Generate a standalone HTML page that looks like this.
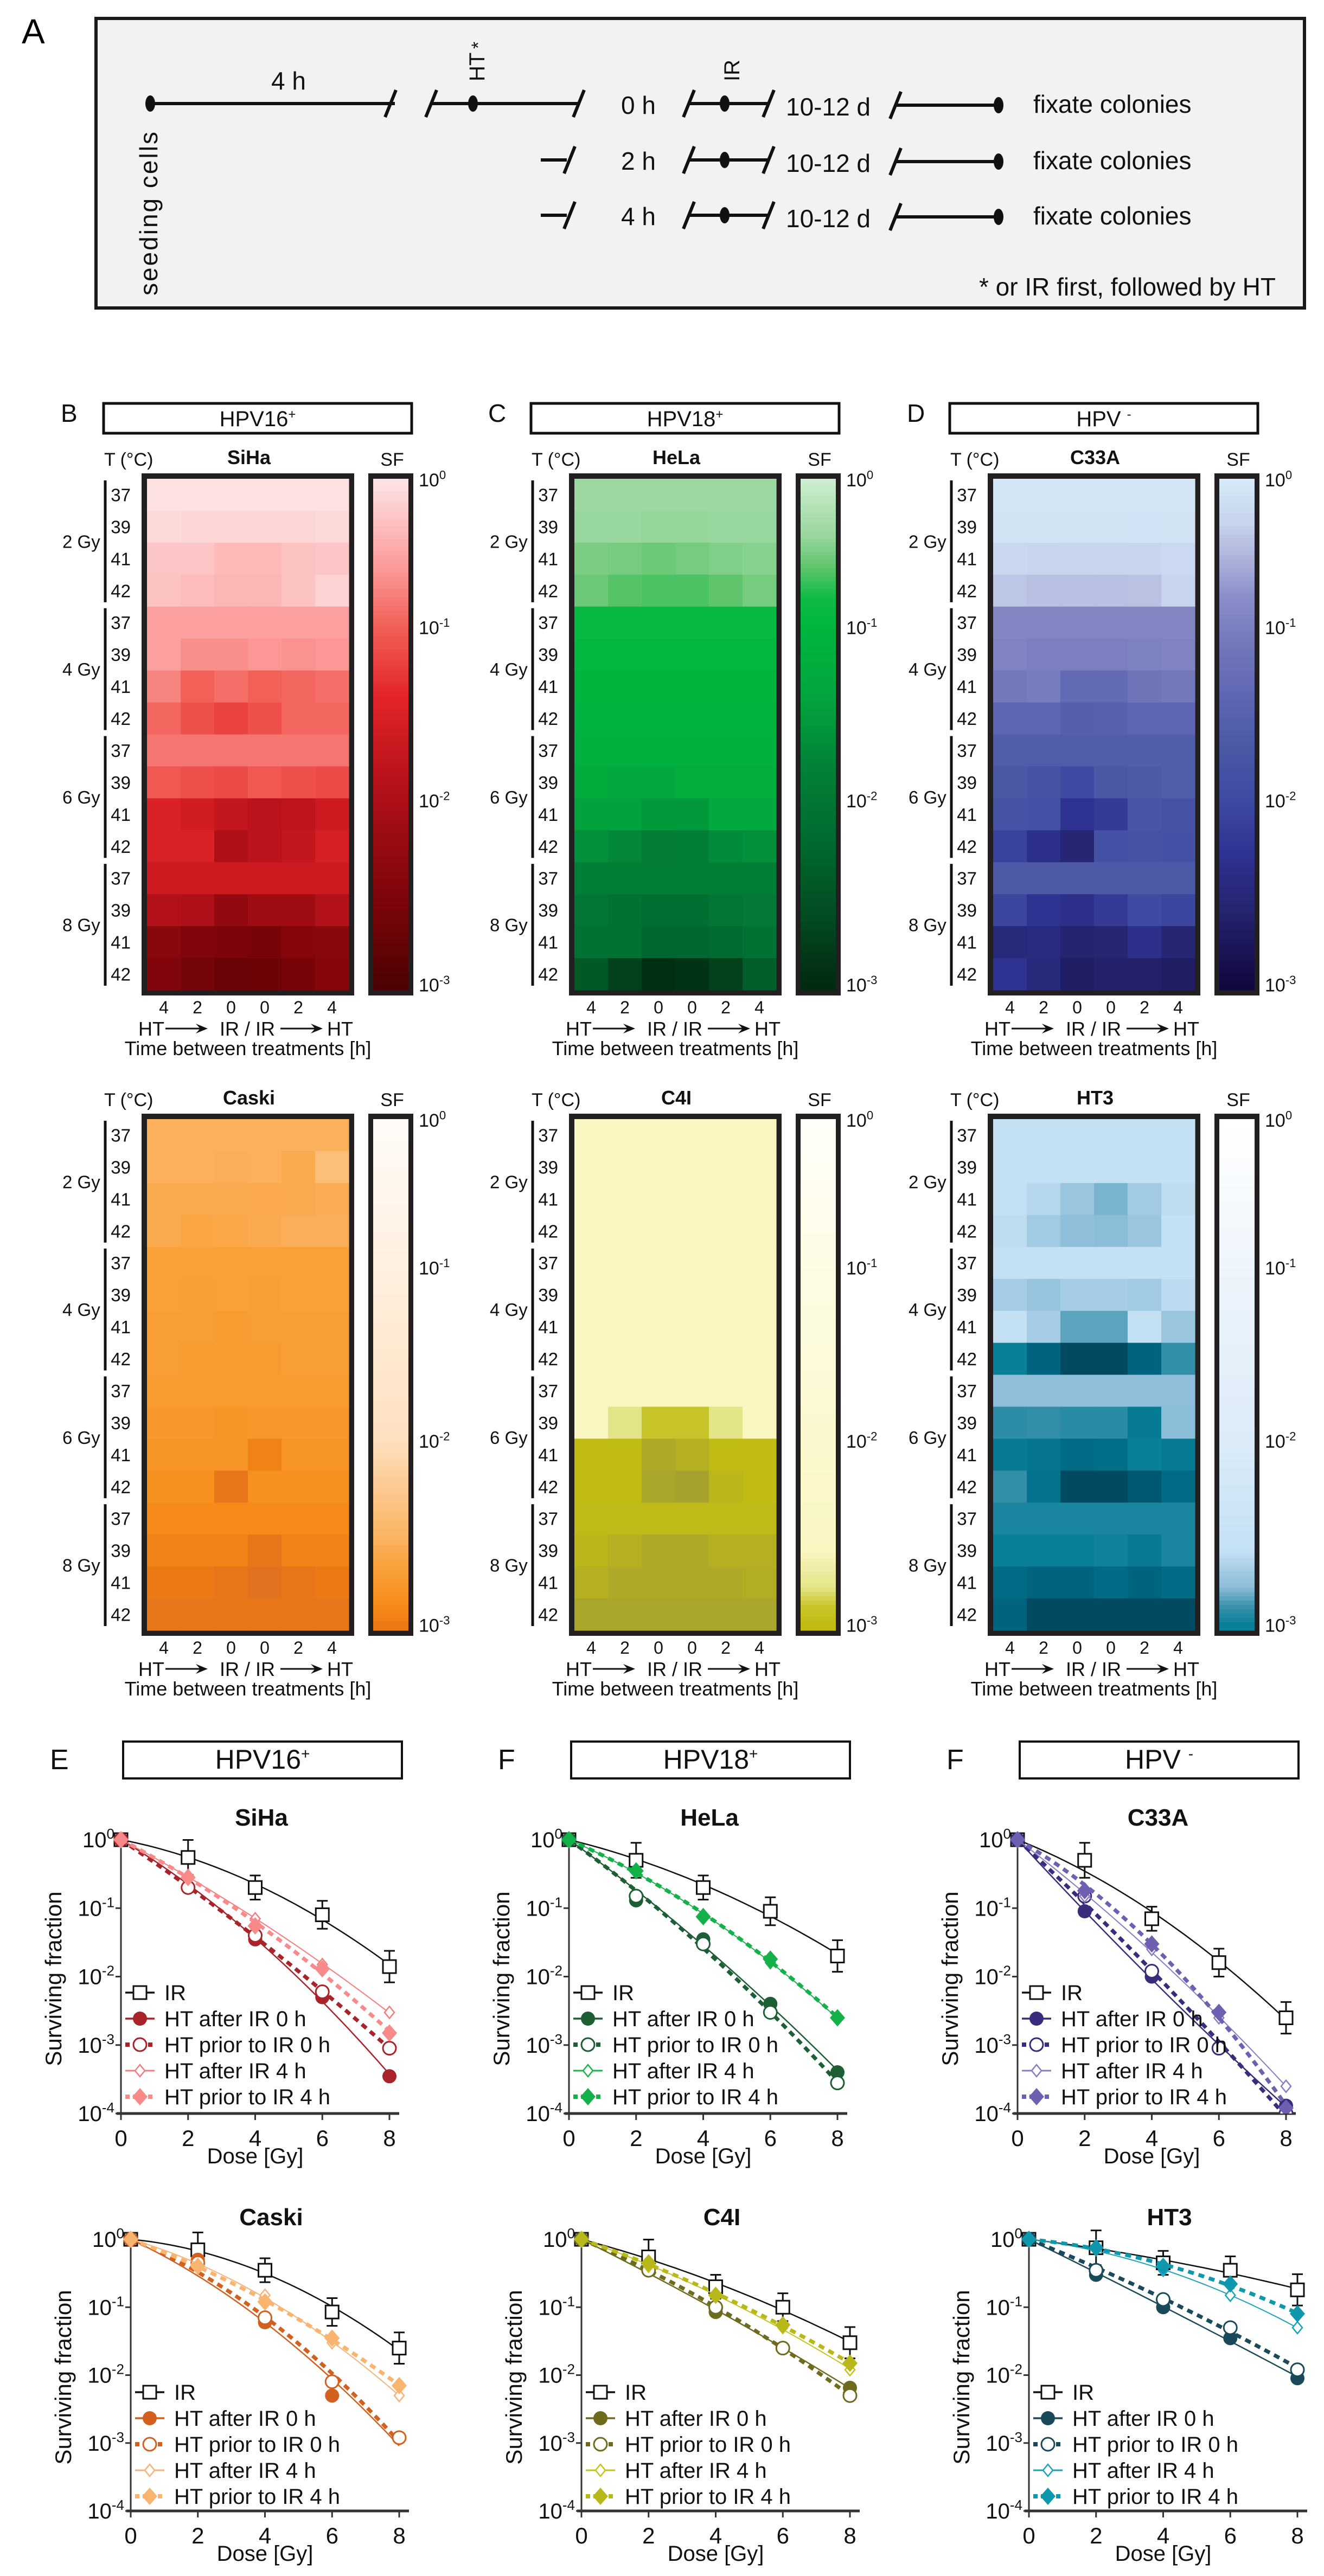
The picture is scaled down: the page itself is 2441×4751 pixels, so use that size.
<!DOCTYPE html>
<html><head><meta charset="utf-8">
<style>
html,body{margin:0;padding:0;background:#fff;}
svg{display:block;font-family:"Liberation Sans",Arial,sans-serif;}
.n{font-family:"Liberation Sans Narrow","Liberation Sans",sans-serif;}
</style></head>
<body>
<svg id="fig" width="2441" height="4751" viewBox="0 0 2441 4751" xmlns="http://www.w3.org/2000/svg">
<rect x="0" y="0" width="2441" height="4751" fill="#fff"/>
<!-- Panel A -->
<g>
<text x="40" y="80" font-size="64">A</text>
<rect x="177" y="34" width="2228" height="534" fill="#f3f2f2" stroke="#1a1a1a" stroke-width="6"/>
<g stroke="#111" stroke-width="6" fill="none">
<line x1="277" y1="191" x2="728" y2="191"/><line x1="795" y1="191" x2="1067" y2="191"/>
<line x1="710" y1="216" x2="730" y2="166"/><line x1="785" y1="216" x2="805" y2="166"/><line x1="1057" y1="216" x2="1077" y2="166"/>
<line x1="1270" y1="191" x2="1417" y2="191"/><line x1="1260" y1="216" x2="1280" y2="166"/><line x1="1407" y1="216" x2="1427" y2="166"/>
<line x1="1651" y1="194" x2="1841" y2="194"/><line x1="1641" y1="219" x2="1661" y2="169"/>
<line x1="997" y1="295" x2="1045" y2="295"/><line x1="1040" y1="320" x2="1060" y2="270"/>
<line x1="1270" y1="295" x2="1417" y2="295"/><line x1="1260" y1="320" x2="1280" y2="270"/><line x1="1407" y1="320" x2="1427" y2="270"/>
<line x1="1651" y1="298" x2="1841" y2="298"/><line x1="1641" y1="323" x2="1661" y2="273"/>
<line x1="997" y1="397" x2="1045" y2="397"/><line x1="1040" y1="422" x2="1060" y2="372"/>
<line x1="1270" y1="397" x2="1417" y2="397"/><line x1="1260" y1="422" x2="1280" y2="372"/><line x1="1407" y1="422" x2="1427" y2="372"/>
<line x1="1651" y1="400" x2="1841" y2="400"/><line x1="1641" y1="425" x2="1661" y2="375"/>
</g>
<g fill="#111">
<ellipse cx="277" cy="191" rx="9" ry="15"/><ellipse cx="872" cy="191" rx="9" ry="15"/><ellipse cx="1336" cy="191" rx="9" ry="15"/><ellipse cx="1841" cy="194" rx="9" ry="15"/>
<ellipse cx="1336" cy="295" rx="9" ry="15"/><ellipse cx="1841" cy="298" rx="9" ry="15"/>
<ellipse cx="1336" cy="397" rx="9" ry="15"/><ellipse cx="1841" cy="400" rx="9" ry="15"/>
</g>
<g class="n" font-size="46" fill="#111">
<text x="500" y="165">4 h</text>
<text x="1145" y="210">0 h</text><text x="1145" y="313">2 h</text><text x="1145" y="415">4 h</text>
<text x="1449" y="213">10-12 d</text><text x="1449" y="317">10-12 d</text><text x="1449" y="419">10-12 d</text>
<text x="1905" y="208">fixate colonies</text><text x="1905" y="312">fixate colonies</text><text x="1905" y="414">fixate colonies</text>
<text x="2352" y="545" text-anchor="end">* or IR first, followed by HT</text>
<text transform="translate(893,150) rotate(-90)" font-size="40">HT</text>
<text transform="translate(893,90) rotate(-90)" font-size="34">*</text>
<text transform="translate(1363,150) rotate(-90)" font-size="40">IR</text>
</g>
<text transform="translate(290,545) rotate(-90)" font-size="46" letter-spacing="3" fill="#111">seeding cells</text>
</g>
<g id="heatmaps"></g>
<g id="charts"></g>
</svg>
<script>
// ================= HEATMAP DATA (log10 SF) =================
const hmRowTemps = ["37","39","41","42"];
const hmDoses = ["2 Gy","4 Gy","6 Gy","8 Gy"];
const hmColLabels = ["4","2","0","0","2","4"];
const cbTickLabels = ["0","-1","-2","-3"];
const sihaLog = [
[-0.05,-0.05,-0.05,-0.05,-0.05,-0.05],[-0.1,-0.12,-0.13,-0.13,-0.12,-0.1],[-0.25,-0.25,-0.35,-0.35,-0.28,-0.25],[-0.28,-0.33,-0.38,-0.38,-0.28,-0.15],
[-0.55,-0.55,-0.55,-0.55,-0.55,-0.55],[-0.55,-0.68,-0.68,-0.62,-0.65,-0.62],[-0.75,-1.0,-0.9,-1.0,-0.95,-0.9],[-0.95,-1.1,-1.2,-1.1,-0.95,-0.95],
[-0.85,-0.85,-0.85,-0.85,-0.85,-0.85],[-1.05,-1.1,-1.15,-1.05,-1.1,-1.15],[-1.5,-1.6,-1.75,-1.85,-1.8,-1.65],[-1.5,-1.5,-2.0,-1.85,-1.75,-1.55],
[-1.65,-1.65,-1.65,-1.65,-1.65,-1.65],[-1.95,-2.0,-2.3,-2.15,-2.15,-1.95],[-2.4,-2.5,-2.55,-2.6,-2.45,-2.4],[-2.5,-2.65,-2.75,-2.7,-2.6,-2.45]];
const helaLog = [
[-0.35,-0.35,-0.35,-0.35,-0.35,-0.35],[-0.38,-0.38,-0.4,-0.4,-0.38,-0.38],[-0.5,-0.52,-0.55,-0.52,-0.48,-0.45],[-0.55,-0.62,-0.65,-0.65,-0.6,-0.52],
[-0.9,-0.9,-0.9,-0.9,-0.9,-0.9],[-0.95,-0.95,-0.95,-0.95,-0.95,-0.95],[-1.05,-1.05,-1.05,-1.05,-1.05,-1.05],[-1.08,-1.08,-1.08,-1.08,-1.08,-1.08],
[-1.15,-1.15,-1.15,-1.15,-1.15,-1.15],[-1.25,-1.3,-1.35,-1.2,-1.2,-1.2],[-1.45,-1.45,-1.55,-1.55,-1.3,-1.3],[-1.65,-1.75,-1.9,-1.85,-1.7,-1.65],
[-1.85,-1.85,-1.85,-1.85,-1.85,-1.85],[-2.0,-2.1,-2.15,-2.15,-2.0,-1.95],[-2.1,-2.1,-2.25,-2.25,-2.2,-2.1],[-2.45,-2.75,-2.95,-2.9,-2.75,-2.4]];
const c33aLog = [
[-0.05,-0.05,-0.05,-0.05,-0.05,-0.05],[-0.08,-0.08,-0.1,-0.1,-0.09,-0.08],[-0.25,-0.27,-0.28,-0.28,-0.27,-0.23],[-0.4,-0.45,-0.45,-0.45,-0.43,-0.3],
[-0.9,-0.9,-0.9,-0.9,-0.9,-0.9],[-0.95,-1.0,-1.0,-1.0,-0.98,-0.95],[-1.1,-1.05,-1.35,-1.35,-1.15,-1.1],[-1.4,-1.4,-1.55,-1.5,-1.4,-1.4],
[-1.6,-1.6,-1.6,-1.6,-1.6,-1.6],[-1.7,-1.8,-2.0,-1.7,-1.65,-1.6],[-1.8,-1.85,-2.3,-2.2,-1.75,-1.8],[-2.1,-2.35,-2.55,-1.85,-1.8,-1.85],
[-1.65,-1.65,-1.65,-1.65,-1.65,-1.65],[-2.05,-2.3,-2.35,-2.2,-2.0,-2.05],[-2.5,-2.45,-2.6,-2.55,-2.35,-2.55],[-2.3,-2.5,-2.7,-2.65,-2.65,-2.7]];
const caskiLog = [
[-2.55,-2.55,-2.55,-2.55,-2.55,-2.55],[-2.55,-2.55,-2.57,-2.55,-2.6,-2.4],[-2.6,-2.6,-2.6,-2.62,-2.6,-2.58],[-2.6,-2.65,-2.63,-2.6,-2.57,-2.57],
[-2.7,-2.7,-2.7,-2.7,-2.7,-2.7],[-2.7,-2.72,-2.7,-2.72,-2.7,-2.7],[-2.72,-2.72,-2.74,-2.72,-2.72,-2.72],[-2.72,-2.74,-2.74,-2.74,-2.72,-2.72],
[-2.74,-2.74,-2.74,-2.74,-2.74,-2.74],[-2.78,-2.78,-2.8,-2.78,-2.78,-2.78],[-2.8,-2.8,-2.8,-2.95,-2.8,-2.8],[-2.85,-2.85,-3.05,-2.85,-2.85,-2.85],
[-2.9,-2.9,-2.9,-2.9,-2.9,-2.9],[-2.95,-2.95,-2.95,-3.05,-2.95,-2.95],[-3.0,-3.0,-3.05,-3.1,-3.05,-3.0],[-3.05,-3.05,-3.05,-3.05,-3.05,-3.05]];
const c4iLog = [
[-2.6,-2.6,-2.6,-2.6,-2.6,-2.6],[-2.6,-2.6,-2.6,-2.6,-2.6,-2.6],[-2.6,-2.6,-2.6,-2.6,-2.6,-2.6],[-2.6,-2.6,-2.6,-2.6,-2.6,-2.6],
[-2.6,-2.6,-2.6,-2.6,-2.6,-2.6],[-2.6,-2.6,-2.6,-2.6,-2.6,-2.6],[-2.6,-2.6,-2.6,-2.6,-2.6,-2.6],[-2.6,-2.6,-2.6,-2.6,-2.6,-2.6],
[-2.6,-2.6,-2.6,-2.6,-2.6,-2.6],[-2.6,-2.8,-2.92,-2.92,-2.8,-2.6],[-3.0,-3.0,-3.15,-3.1,-3.0,-3.0],[-3.0,-3.0,-3.2,-3.25,-3.05,-3.0],
[-3.02,-3.02,-3.02,-3.02,-3.02,-3.02],[-3.05,-3.1,-3.15,-3.15,-3.1,-3.1],[-3.1,-3.15,-3.15,-3.15,-3.15,-3.12],[-3.2,-3.2,-3.2,-3.2,-3.2,-3.2]];
const ht3Log = [
[-2.6,-2.6,-2.6,-2.6,-2.6,-2.6],[-2.6,-2.6,-2.6,-2.6,-2.6,-2.6],[-2.6,-2.65,-2.75,-2.82,-2.72,-2.62],[-2.62,-2.72,-2.78,-2.8,-2.74,-2.6],
[-2.6,-2.6,-2.6,-2.6,-2.6,-2.6],[-2.7,-2.76,-2.7,-2.7,-2.72,-2.63],[-2.6,-2.7,-2.86,-2.86,-2.6,-2.74],[-3.0,-3.12,-3.2,-3.2,-3.12,-2.92],
[-2.79,-2.79,-2.79,-2.79,-2.79,-2.79],[-2.93,-2.92,-2.94,-2.94,-3.02,-2.8],[-3.02,-3.05,-3.1,-3.08,-3.0,-3.02],[-2.92,-3.06,-3.2,-3.2,-3.16,-3.1],
[-2.97,-2.97,-2.97,-2.97,-2.97,-2.97],[-3.0,-3.0,-3.0,-2.99,-3.03,-2.97],[-3.1,-3.12,-3.12,-3.1,-3.12,-3.1],[-3.12,-3.2,-3.2,-3.2,-3.2,-3.2]];

const cmapRed=[[0,"#fde6e6"],[-0.3,"#fcc0c0"],[-0.6,"#fb9a98"],[-1,"#f26058"],[-1.4,"#e3252a"],[-1.8,"#c0141c"],[-2.2,"#9a0c12"],[-2.6,"#780408"],[-3,"#4e0204"]];
const cmapGreen=[[0,"#d0eed2"],[-0.4,"#95d69a"],[-0.6,"#5fc46c"],[-0.8,"#10bb48"],[-1,"#00b63e"],[-1.4,"#02a63d"],[-1.8,"#028238"],[-2.2,"#016b32"],[-2.6,"#024e22"],[-3,"#012b10"]];
const cmapBlue=[[0,"#d6eaf7"],[-0.3,"#c6d4ec"],[-0.5,"#b2b8de"],[-0.8,"#8a8ec8"],[-1.1,"#7378ba"],[-1.4,"#5f66b4"],[-1.7,"#4a58a6"],[-2,"#3f4aa2"],[-2.3,"#2e3290"],[-2.6,"#242470"],[-3,"#120840"]];
const cmapOrange=[[0,"#fffbf7"],[-1,"#fff0e0"],[-2,"#fee0c0"],[-2.5,"#fbb667"],[-2.75,"#f99b2e"],[-2.9,"#f58a18"],[-3,"#ec7a14"],[-3.2,"#d26a2a"]];
const cmapYellow=[[0,"#fffffa"],[-2.6,"#faf6c2"],[-2.8,"#e4e488"],[-2.9,"#c8c62e"],[-3,"#c0bc14"],[-3.15,"#aeaa28"],[-3.3,"#a0a030"]];
const cmapTeal=[[0,"#ffffff"],[-2,"#dcebf8"],[-2.6,"#c4e1f4"],[-2.7,"#a6cde6"],[-2.8,"#8bbcd8"],[-2.9,"#3d93ac"],[-3,"#0a7f98"],[-3.1,"#006b85"],[-3.2,"#004a62"]];

// ================= SURVIVAL CURVE DATA =================
const doses=[0,2,4,6,8];
const legendLabels=["IR","HT after IR 0 h","HT prior to IR 0 h","HT after IR 4 h","HT prior to IR 4 h"];
const sihaIR=[1,0.55,0.2,0.08,0.014], sihaA0=[1,0.2,0.035,0.005,0.00035], sihaP0=[1,0.2,0.04,0.006,0.0009], sihaA4=[1,0.3,0.07,0.015,0.003], sihaP4=[1,0.28,0.055,0.013,0.0015];
const helaIR=[1,0.5,0.2,0.09,0.02], helaA0=[1,0.13,0.035,0.004,0.0004], helaP0=[1,0.15,0.03,0.003,0.00028], helaA4=[1,0.35,0.08,0.016,0.0025], helaP4=[1,0.35,0.075,0.018,0.0025];
const c33aIR=[1,0.5,0.07,0.016,0.0025], c33aA0=[1,0.09,0.01,0.0009,0.00013], c33aP0=[1,0.15,0.012,0.0009,0.0001], c33aA4=[1,0.15,0.025,0.0025,0.00025], c33aP4=[1,0.18,0.03,0.003,0.00012];
const caskiIR=[1,0.7,0.35,0.085,0.025], caskiA0=[1,0.5,0.06,0.005,0.0012], caskiP0=[1,0.45,0.07,0.008,0.0012], caskiA4=[1,0.4,0.15,0.03,0.005], caskiP4=[1,0.4,0.12,0.035,0.007];
const c4iIR=[1,0.55,0.2,0.1,0.03], c4iA0=[1,0.35,0.085,0.025,0.0065], c4iP0=[1,0.35,0.1,0.025,0.005], c4iA4=[1,0.4,0.15,0.05,0.012], c4iP4=[1,0.45,0.15,0.055,0.015];
const ht3IR=[1,0.75,0.45,0.35,0.18], ht3A0=[1,0.3,0.1,0.035,0.009], ht3P0=[1,0.35,0.13,0.05,0.012], ht3A4=[1,0.7,0.35,0.15,0.05], ht3P4=[1,0.75,0.4,0.22,0.08];
const irErrFactor=[1,1.8,1.5,1.6,1.7];
const yTickExps=["0","-1","-2","-3","-4"];
const xTickLabels=["0","2","4","6","8"];

const NS="http://www.w3.org/2000/svg";
function mk(tag,attrs,parent){const e=document.createElementNS(NS,tag);for(const k in attrs)e.setAttribute(k,attrs[k]);parent.appendChild(e);return e;}
function hex2rgb(h){return [parseInt(h.substr(1,2),16),parseInt(h.substr(3,2),16),parseInt(h.substr(5,2),16)];}
function cmap(stops,v){
  if(v>=stops[0][0])return stops[0][1];
  for(let i=1;i<stops.length;i++){
    if(v>=stops[i][0]){const a=hex2rgb(stops[i-1][1]),b=hex2rgb(stops[i][1]);const t=(stops[i-1][0]-v)/(stops[i-1][0]-stops[i][0]);
      return "rgb("+a.map((x,j)=>Math.round(x+(b[j]-x)*t)).join(",")+")";}
  }
  return stops[stops.length-1][1];
}
function supText(parent,x,y,base,exp,size,anchor,name){
  const t=mk("text",{x:x,y:y,"font-size":size,"text-anchor":anchor||"start",fill:"#111"},parent);
  
  
  t.appendChild(document.createTextNode(base));
  const s=mk("tspan",{dy:-size*0.4,"font-size":size*0.65},t);s.textContent=exp;
  return t;
}
const cbFrac=[0,0.289,0.628,0.988];
function fracToLog(f){for(let i=1;i<cbFrac.length;i++){if(f<=cbFrac[i]){return -(i-1)-(f-cbFrac[i-1])/(cbFrac[i]-cbFrac[i-1]);}}return -3;}

const HM=document.getElementById("heatmaps");
function heatmap(hx,hy,title,letter,header,data,stops,id){
  const g=mk("g",{},HM);
  
  
  const W=392,H=963,inset=10,iw=W-2*inset,ih=H-2*inset;
  if(letter){
    const l=mk("text",{x:hx-149,y:hy-95,"font-size":46,fill:"#111"},g);l.textContent=letter;
    
    
    const b=mk("rect",{x:hx-70,y:hy-129,width:568,height:55,fill:"#fff",stroke:"#111","stroke-width":5},g);
    
    
    const ht=mk("text",{x:hx+214,y:hy-87,"font-size":40,"text-anchor":"middle",fill:"#111"},g);
    
    
    ht.appendChild(document.createTextNode(header[0]));
    const sp=mk("tspan",{dy:-14,"font-size":24},ht);sp.textContent=header[1];
  }
  const tc=mk("text",{x:hx-69,y:hy-14,"font-size":34,fill:"#111"},g);tc.textContent="T (°C)";
  
  
  const tt=mk("text",{x:hx+198,y:hy-17,"font-size":36,"font-weight":"bold","text-anchor":"middle",fill:"#111"},g);tt.textContent=title;
  
  
  const sf=mk("text",{x:hx+462,y:hy-14,"font-size":34,"text-anchor":"middle",fill:"#111"},g);sf.textContent="SF";
  
  
  mk("rect",{x:hx,y:hy,width:W,height:H,fill:"#231f20"},g);
  const nr=data.length,nc=data[0].length,cw=iw/nc,ch=ih/nr;
  for(let r=0;r<nr;r++)for(let c=0;c<nc;c++){
    const cell=mk("rect",{x:hx+inset+c*cw,y:hy+inset+r*ch,width:cw+0.6,height:ch+0.6,fill:cmap(stops,data[r][c])},g);
    
    
  }
  for(let r=0;r<nr;r++){
    const t=mk("text",{x:hx-20,y:hy+inset+(r+0.5)*ch+12,"font-size":33,"text-anchor":"end",fill:"#111"},g);t.textContent=hmRowTemps[r%4];
    
    
  }
  for(let d=0;d<4;d++){
    const y1=hy+inset+d*4*ch+3,y2=hy+inset+(d+1)*4*ch-8;
    mk("line",{x1:hx-67,y1:y1,x2:hx-67,y2:y2,stroke:"#111","stroke-width":5},g);
    const t=mk("text",{x:hx-146,y:(y1+y2)/2+12,"font-size":33,fill:"#111"},g);t.textContent=hmDoses[d];
    
    
  }
  for(let c=0;c<nc;c++){
    const t=mk("text",{x:hx+inset+(c+0.5)*cw,y:hy+H+33,"font-size":32,"text-anchor":"middle",fill:"#111"},g);t.textContent=hmColLabels[c];
    
    
  }
  const ay=hy+H+74;
  const seq=mk("g",{},g);
  
  
  const a1=mk("text",{x:hx-6,y:ay,"font-size":36,fill:"#111"},seq);a1.textContent="HT";
  const a2=mk("text",{x:hx+144,y:ay,"font-size":36,fill:"#111"},seq);a2.textContent="IR / IR";
  const a3=mk("text",{x:hx+342,y:ay,"font-size":36,fill:"#111"},seq);a3.textContent="HT";
  [[hx+44,hx+122],[hx+256,hx+334]].forEach(p=>{
    mk("line",{x1:p[0],y1:ay-13,x2:p[1]-4,y2:ay-13,stroke:"#111","stroke-width":3},seq);
    mk("path",{d:`M${p[1]} ${ay-13} L${p[1]-22} ${ay-22} L${p[1]-14} ${ay-13} L${p[1]-22} ${ay-4} Z`,fill:"#111"},seq);
  });
  const tl=mk("text",{x:hx+196,y:hy+H+110,"font-size":36,"text-anchor":"middle",fill:"#111"},g);tl.textContent="Time between treatments [h]";
  
  
  // colorbar
  const cx=hx+418;
  const cb=mk("g",{},g);
  
  
  mk("rect",{x:cx,y:hy,width:83,height:H,fill:"#231f20"},cb);
  const N=120;const cbh=ih/N;
  for(let i=0;i<N;i++){
    mk("rect",{x:cx+9,y:hy+inset+i*cbh,width:65,height:cbh+0.6,fill:cmap(stops,fracToLog((i+0.5)/N))},cb);
  }
  for(let i=0;i<4;i++){
    supText(g,hx+511,hy+inset+cbFrac[i]*ih+14,"10",cbTickLabels[i],34,"start",'colorbar-tick-label');
  }
}
const hmX=[261,1049,1821], hmY=[873,2054];
heatmap(hmX[0],hmY[0],"SiHa","B",["HPV16","+"],sihaLog,cmapRed,"siha");
heatmap(hmX[1],hmY[0],"HeLa","C",["HPV18","+"],helaLog,cmapGreen,"hela");
heatmap(hmX[2],hmY[0],"C33A","D",["HPV ","-"],c33aLog,cmapBlue,"c33a");
heatmap(hmX[0],hmY[1],"Caski",null,null,caskiLog,cmapOrange,"caski");
heatmap(hmX[1],hmY[1],"C4I",null,null,c4iLog,cmapYellow,"c4i");
heatmap(hmX[2],hmY[1],"HT3",null,null,ht3Log,cmapTeal,"ht3");

// ================= SURVIVAL CHARTS =================
const CH=document.getElementById("charts");
function fitLQ(vals){
  let s22=0,s23=0,s24=0,b1=0,b2=0;
  for(let i=0;i<doses.length;i++){const D=doses[i],L=Math.log(vals[i]);s22+=D*D;s23+=D*D*D;s24+=D*D*D*D;b1+=-D*L;b2+=-D*D*L;}
  const det=s22*s24-s23*s23;return [(b1*s24-b2*s23)/det,(s22*b2-s23*b1)/det];
}
function marker(g,type,x,y,color){
  let e;
  if(type==="sq")e=mk("rect",{x:x-12,y:y-12,width:24,height:24,fill:"#fff",stroke:"#111","stroke-width":3},g);
  else if(type==="fc")e=mk("circle",{cx:x,cy:y,r:13,fill:color},g);
  else if(type==="oc")e=mk("circle",{cx:x,cy:y,r:12,fill:"#fff",stroke:color,"stroke-width":3},g);
  else if(type==="od")e=mk("path",{d:`M${x} ${y-11} L${x+9} ${y} L${x} ${y+11} L${x-9} ${y} Z`,fill:"#fff",stroke:color,"stroke-width":2.5},g);
  else e=mk("path",{d:`M${x} ${y-16} L${x+14} ${y} L${x} ${y+16} L${x-14} ${y} Z`,fill:color},g);
  return e;
}
function chart(x0,y0,y4,title,letter,header,series,colors,id,narrow,clipId){
  const x8=x0+495;
  const g=mk("g",{},CH);
  
  
  if(narrow)g.setAttribute("class","n");
  const X=d=>x0+d/8*(x8-x0);
  const Y=v=>y0+(-Math.log10(v))/4*(y4-y0);
  if(letter){
    const l=mk("text",{x:x0-131,y:3263,"font-size":52,fill:"#111",class:"n"},g);l.textContent=letter;
    
    
    const b=mk("rect",{x:x0+4,y:3212,width:514,height:68,fill:"#fff",stroke:"#111","stroke-width":4},g);
    
    
    const ht=mk("text",{x:x0+261,y:3262,"font-size":50,"text-anchor":"middle",fill:"#111",class:"n"},g);
    
    
    ht.appendChild(document.createTextNode(header[0]));
    const sp=mk("tspan",{dy:-18,"font-size":28},ht);sp.textContent=header[1];
  }
  const tt=mk("text",{x:x0+259,y:y0-26,"font-size":44,"font-weight":"bold","text-anchor":"middle",fill:"#111"},g);tt.textContent=title;
  
  
  // axes
  const ya=mk("line",{x1:x0,y1:y0-8,x2:x0,y2:y4,stroke:"#333","stroke-width":3},g);
  
  
  const xa=mk("line",{x1:x0-8,y1:y4,x2:x8+18,y2:y4,stroke:"#333","stroke-width":5},g);
  
  
  for(let i=0;i<yTickExps.length;i++){
    const yy=Y(Math.pow(10,-i));
    mk("line",{x1:x0-10,y1:yy,x2:x0,y2:yy,stroke:"#333","stroke-width":3},g);
    supText(g,x0-12,yy+14,"10",yTickExps[i],40,"end",'y-tick-label');
  }
  for(let i=0;i<xTickLabels.length;i++){
    const xx=X(doses[i]);
    mk("line",{x1:xx,y1:y4,x2:xx,y2:y4+12,stroke:"#333","stroke-width":3},g);
    const t=mk("text",{x:xx,y:y4+60,"font-size":42,"text-anchor":"middle",fill:"#111"},g);t.textContent=xTickLabels[i];
    
    
  }
  const xt=mk("text",{x:(x0+x8)/2,y:y4+92,"font-size":40,"text-anchor":"middle",fill:"#111"},g);xt.textContent="Dose [Gy]";
  
  
  const yt=mk("text",{transform:`translate(${x0-110},${(y0+y4)/2+4}) rotate(-90)`,"font-size":42,"text-anchor":"middle",fill:"#111",class:""},g);yt.textContent="Surviving fraction";
  
  
  // clip
  const cp=mk("clipPath",{id:clipId},g);mk("rect",{x:x0-20,y:y0-30,width:540,height:(y4-y0)+30},cp);
  const styles=[{w:2.5,dash:null,m:"sq"},{w:2.5,dash:null,m:"fc"},{w:7,dash:"11 9",m:"oc"},{w:2,dash:null,m:"od"},{w:7,dash:"11 9",m:"fd"}];
  const plotG=mk("g",{"clip-path":`url(#${clipId})`},g);
  series.forEach((vals,si)=>{
    const st=styles[si],col=colors[si];
    const sg=mk("g",{},plotG);
    
    
    const [a,b]=fitLQ(vals);
    let d="";for(let k=0;k<=40;k++){const D=k*0.2;const v=Math.exp(-a*D-b*D*D);d+=(k?"L":"M")+X(D).toFixed(1)+" "+Y(v).toFixed(1);}
    const ln=mk("path",{d:d,fill:"none",stroke:col,"stroke-width":st.w},sg);if(st.dash)ln.setAttribute("stroke-dasharray",st.dash);
    
    
    vals.forEach((v,i)=>{
      if(si===0&&i>0){const f=irErrFactor[i];const xx=X(doses[i]);
        mk("line",{x1:xx,y1:Y(v*f),x2:xx,y2:Y(v/f),stroke:"#111","stroke-width":3},sg);
        mk("line",{x1:xx-10,y1:Y(v*f),x2:xx+10,y2:Y(v*f),stroke:"#111","stroke-width":3},sg);
        mk("line",{x1:xx-10,y1:Y(v/f),x2:xx+10,y2:Y(v/f),stroke:"#111","stroke-width":3},sg);}
      const m=marker(sg,st.m,X(doses[i]),Y(v),col);
      
      
    });
  });
  // legend
  const lg=mk("g",{},g);
  
  
  const ly0=y0+282;
  legendLabels.forEach((lab,i)=>{
    const ly=ly0+i*48,st=styles[i],col=colors[i];
    const e=mk("g",{},lg);
    
    
    const ln=mk("line",{x1:x0+8,y1:ly,x2:x0+62,y2:ly,stroke:col,"stroke-width":st.w+1},e);if(st.dash)ln.setAttribute("stroke-dasharray","8 6");
    marker(e,st.m,x0+35,ly,col);
    const t=mk("text",{x:x0+80,y:ly+14,"font-size":40,fill:"#111"},e);t.textContent=lab;
  });
}
const rowY=[[3393,3898],[4130,4631]];
chart(223,rowY[0][0],rowY[0][1],"SiHa","E",["HPV16","+"],[sihaIR,sihaA0,sihaP0,sihaA4,sihaP4],["#111","#a8232a","#a8232a","#f47c7c","#f88a8a"],"siha",false,"c1");
chart(1049,rowY[0][0],rowY[0][1],"HeLa","F",["HPV18","+"],[helaIR,helaA0,helaP0,helaA4,helaP4],["#111","#1d5e34","#1d5e34","#1db34d","#14b04a"],"hela",true,"c2");
chart(1876,rowY[0][0],rowY[0][1],"C33A","F",["HPV ","-"],[c33aIR,c33aA0,c33aP0,c33aA4,c33aP4],["#111","#3a2c7c","#3a2c7c","#8a7cc4","#6f5fb0"],"c33a",true,"c3");
chart(241,rowY[1][0],rowY[1][1],"Caski",null,null,[caskiIR,caskiA0,caskiP0,caskiA4,caskiP4],["#111","#d2601f","#d2601f","#f8b27a","#f9b46f"],"caski",true,"c4");
chart(1072,rowY[1][0],rowY[1][1],"C4I",null,null,[c4iIR,c4iA0,c4iP0,c4iA4,c4iP4],["#111","#6e6b1f","#6e6b1f","#c4c41c","#b8b81a"],"c4i",true,"c5");
chart(1897,rowY[1][0],rowY[1][1],"HT3",null,null,[ht3IR,ht3A0,ht3P0,ht3A4,ht3P4],["#111","#1a4a5a","#1a4a5a","#1aa3b8","#0f98ad"],"ht3",true,"c6");
</script>
</body></html>
